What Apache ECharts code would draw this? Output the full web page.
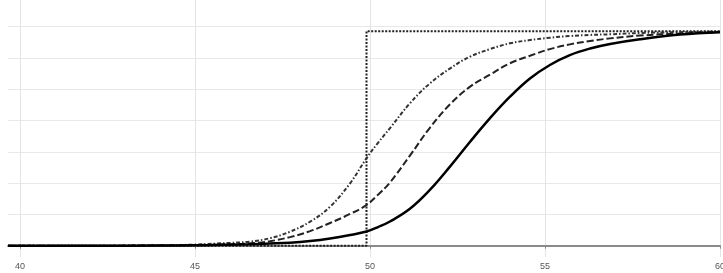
<!DOCTYPE html>
<html>
<head>
<meta charset="utf-8">
<script src="https://cdn.jsdelivr.net/npm/echarts@6/dist/echarts.min.js"></script>
<style>
html,body{margin:0;padding:0;background:#fff;}
#chart{width:723px;height:273px;}
</style>
</head>
<body>
<div id="chart"></div>
<script>
// x positions (shared by the three curves)
const xs = [39.66, 42, 44, 45, 45.5, 46, 46.57, 47.14, 47.71, 48.29, 48.86, 49.43, 49.9, 50.23, 50.57, 51.14, 51.71, 52.29, 52.86, 53.43, 54.0, 54.57, 55.14, 55.71, 56.29, 56.86, 57.71, 58.86, 60];
const solidY = [0, 0, 0.001, 0.002, 0.003, 0.005, 0.007, 0.010, 0.014, 0.022, 0.034, 0.05, 0.066, 0.087, 0.113, 0.172, 0.26, 0.37, 0.485, 0.595, 0.695, 0.78, 0.843, 0.889, 0.92, 0.941, 0.963, 0.985, 0.996];
const dashedY = [0, 0, 0.001, 0.003, 0.005, 0.007, 0.011, 0.021, 0.04, 0.068, 0.106, 0.148, 0.19, 0.238, 0.295, 0.42, 0.55, 0.66, 0.742, 0.798, 0.851, 0.886, 0.917, 0.939, 0.955, 0.967, 0.98, 0.99, 0.997];
const dashDotY = [0, 0, 0.002, 0.005, 0.009, 0.013, 0.019, 0.035, 0.065, 0.112, 0.182, 0.291, 0.408, 0.48, 0.548, 0.664, 0.757, 0.827, 0.882, 0.917, 0.944, 0.959, 0.97, 0.978, 0.983, 0.986, 0.992, 0.996, 0.998];
// step function
const stepX = [39.66, 49.9, 49.9, 60];
const stepY = [0, 0, 1, 1];
// axis ticks
const xTicks = [40, 45, 50, 55, 60];
const yGrid = [0, 0.1459, 0.2919, 0.4378, 0.5838, 0.7297, 0.8757, 1.0216];

const pairs = (a, b) => a.map((v, i) => [v, b[i]]);

const chart = echarts.init(document.getElementById('chart'), null, {renderer: 'canvas'});
chart.setOption({
  animation: false,
  backgroundColor: '#fff',
  grid: {left: 8, right: 3, top: 0, bottom: 16, containLabel: false, outerBoundsMode: 'none'},
  xAxis: {
    type: 'value', min: 39.657, max: 60,
    axisLine: {show: true, lineStyle: {color: '#8a8a8a', width: 2}},
    axisTick: {show: true, customValues: xTicks, length: 3, lineStyle: {color: '#8a8a8a'}},
    axisLabel: {show: true, customValues: xTicks, margin: 5, fontSize: 9, color: '#555', fontFamily: 'Liberation Sans', alignMaxLabel: 'center', alignMinLabel: 'center', hideOverlap: false},
    splitLine: {show: true, lineStyle: {color: '#e4e4e4', width: 1}}
  },
  yAxis: {
    type: 'value', min: -0.0527, max: 1.146,
    axisLine: {show: false},
    axisTick: {show: false, customValues: yGrid},
    axisLabel: {show: false},
    splitLine: {show: true, lineStyle: {color: '#e8e8e8', width: 1}}
  },
  series: [
    {type: 'line', data: pairs(stepX, stepY), symbol: 'none', z: 2,
     lineStyle: {color: '#222', width: 2, type: [2, 1.5]}},
    {type: 'line', data: pairs(xs, dashDotY), symbol: 'none', smooth: 0.4, z: 3,
     lineStyle: {color: '#333', width: 2, type: [4, 2, 1.5, 2]}},
    {type: 'line', data: pairs(xs, dashedY), symbol: 'none', smooth: 0.4, z: 4,
     lineStyle: {color: '#222', width: 2, type: [7, 3]}},
    {type: 'line', data: pairs(xs, solidY), symbol: 'none', smooth: 0.4, z: 5,
     lineStyle: {color: '#000', width: 2.5}}
  ]
});
</script>
</body>
</html>
